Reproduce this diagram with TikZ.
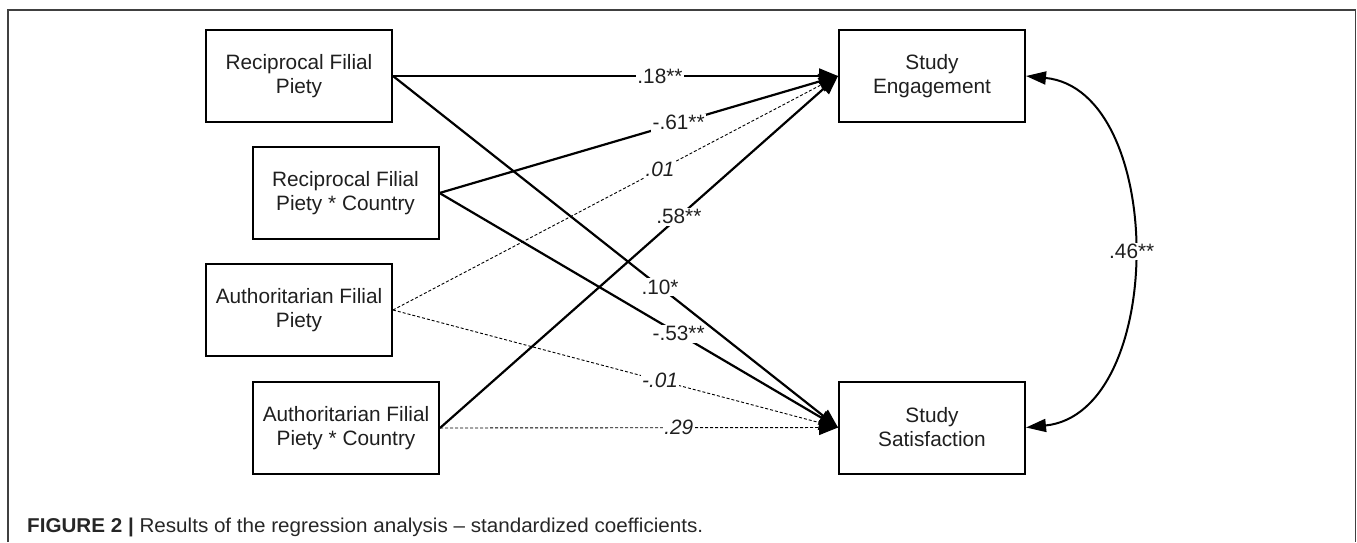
\documentclass[tikz,border=0pt]{standalone}
\usepackage{fontspec}
\usepackage{graphicx}
\setmainfont{Liberation Sans}
\usetikzlibrary{arrows.meta}

\tikzset{
  varbox/.style={draw=black, line width=2pt, minimum width=186pt, minimum height=92pt,
    align=center, inner sep=0pt, text=black!88, font=\fontsize{20.8}{24}\selectfont},
  path solid/.style={line width=2.2pt, -{Triangle[length=19pt,width=15pt]}},
  path weak/.style={line width=0.9pt, dash pattern=on 3pt off 2pt, -{Triangle[length=19pt,width=15pt]}},
  coef/.style={pos=0.6, fill=white, inner sep=1.5pt, text=black!88, font=\fontsize{20.8}{24}\selectfont},
}

\begin{document}
\begin{tikzpicture}[x=1pt, y=-1pt]
\useasboundingbox (0,0) rectangle (1357,542);

% open frame round the figure
\draw[black!75, line width=1.2pt] (8,542) -- (8,10) -- (1355.5,10) -- (1355.5,542);

% predictors
\node[varbox] (rfp)  at (299,76)    {Reciprocal Filial\\Piety};
\node[varbox] (rfpc) at (345.5,193) {Reciprocal Filial\\Piety * Country};
\node[varbox] (afp)  at (299,310)   {Authoritarian Filial\\Piety};
\node[varbox] (afpc) at (346,428)   {Authoritarian Filial\\Piety * Country};

% outcomes
\node[varbox] (eng) at (932,76)    {Study\\Engagement};
\node[varbox] (sat) at (932,427.5) {Study\\Satisfaction};

% paths to study engagement
\draw[path solid] (rfp.east)  -- node[coef] {.18**} (eng.west);
\draw[path solid] (rfpc.east) -- node[coef] {-.61**} (eng.west);
\draw[path weak]  (afp.east)  -- node[coef] {\itshape .01} (eng.west);
\draw[path solid] (afpc.east) -- node[coef] {.58**} (eng.west);

% paths to study satisfaction
\draw[path solid] (rfp.east)  -- node[coef] {.10*} (sat.west);
\draw[path solid] (rfpc.east) -- node[coef] {-.53**} (sat.west);
\draw[path weak]  (afp.east)  -- node[coef] {\itshape -.01} (sat.west);
\draw[path weak]  (afpc.east) -- node[coef] {\itshape .29} (sat.west);

% residual correlation between the outcomes
\draw[line width=2pt, {Triangle[length=20pt,width=13pt]}-{Triangle[length=20pt,width=13pt]}]
  (eng.east) .. controls (1167,90) and (1167,413) .. node[pos=0.5, fill=white, inner sep=1.5pt,
  text=black!88, font=\fontsize{20.8}{24}\selectfont] {.46**} (sat.east);

% caption
\node[anchor=base west, inner sep=0pt, text=black!85] (cap) at (27,532)
  {\resizebox{676pt}{\height}{\fontsize{20}{23}\selectfont\textbf{FIGURE 2 |} Results of the regression analysis – standardized coefficients.}};
\end{tikzpicture}
\end{document}
